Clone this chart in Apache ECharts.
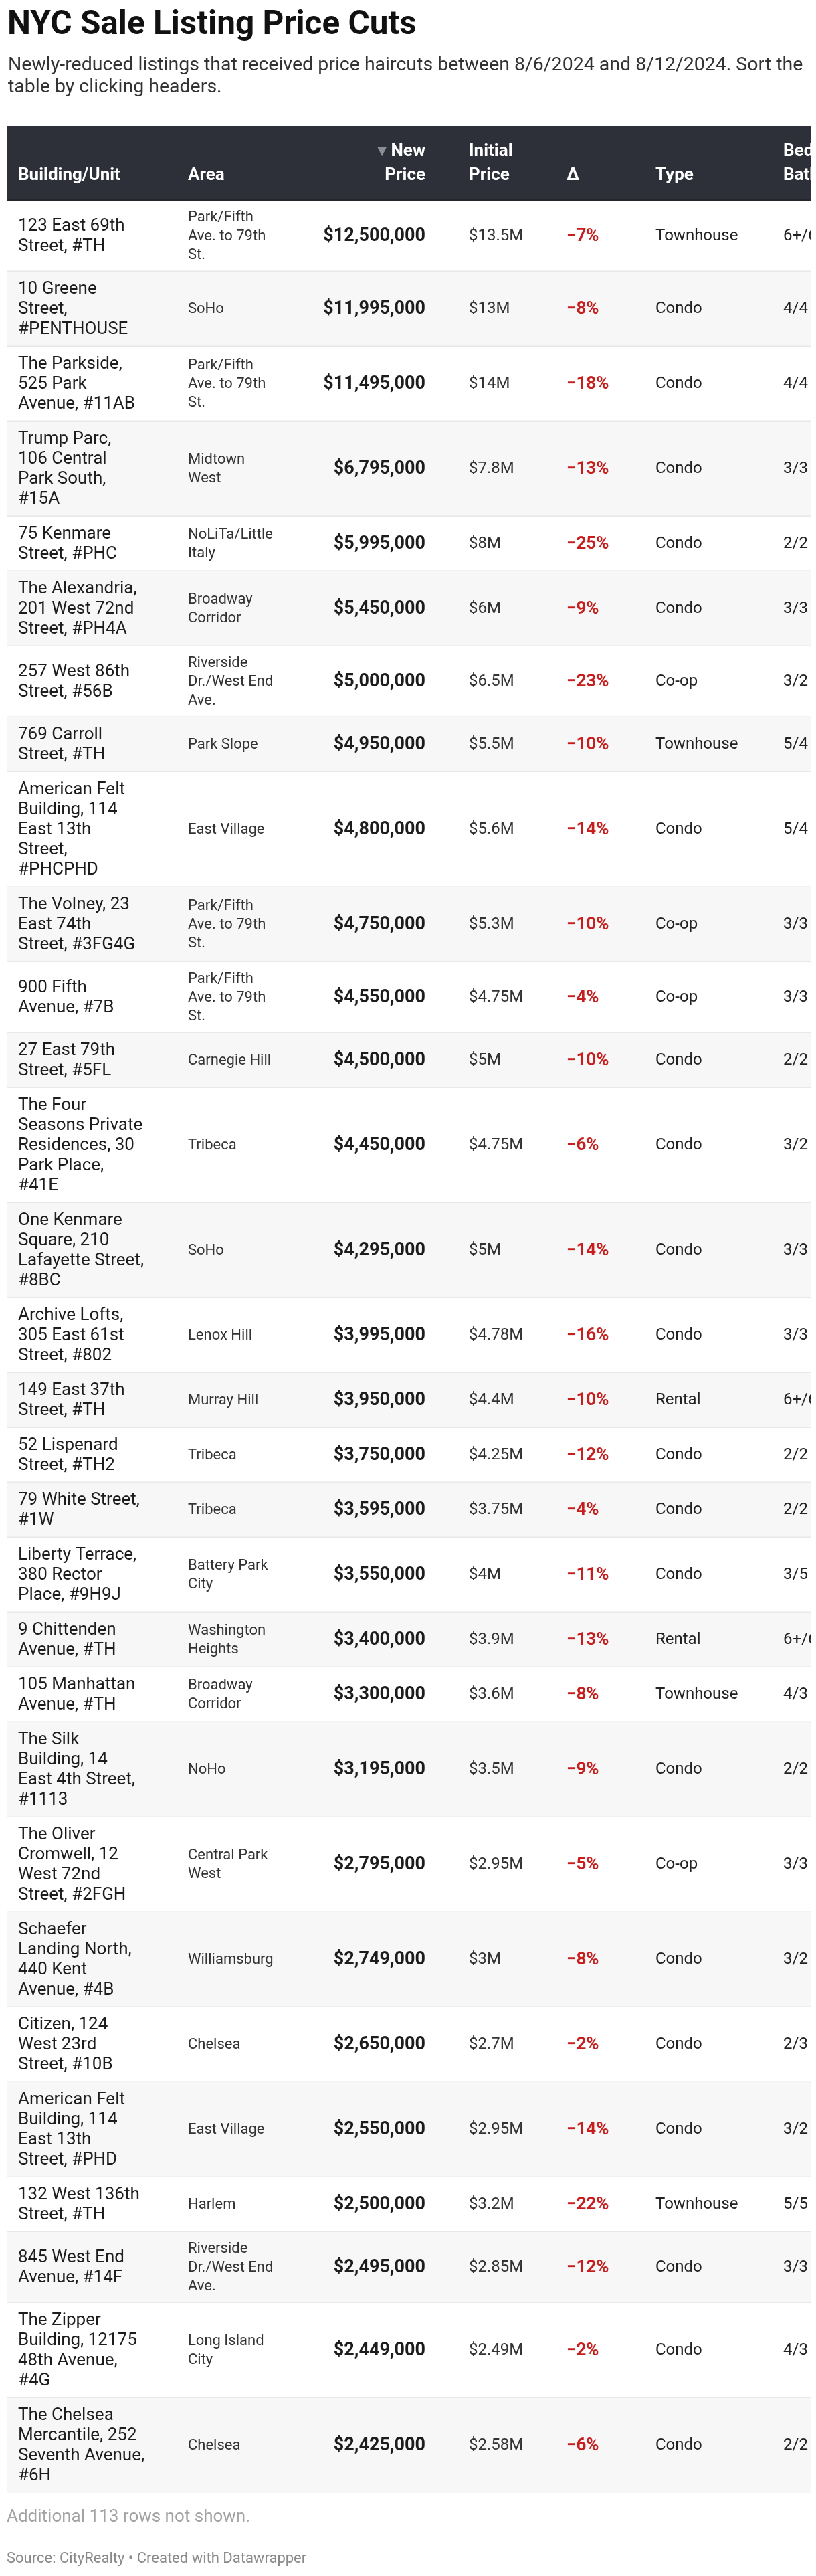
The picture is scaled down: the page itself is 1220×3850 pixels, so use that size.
<!DOCTYPE html>
<html><head><meta charset="utf-8">
<script src="https://cdn.jsdelivr.net/npm/echarts@6/dist/echarts.min.js"></script>
<style>html,body{margin:0;padding:0;background:#fff}#c{width:1220px;height:3850px}</style>
</head><body><div id="c"></div><script>
// ---------------- DATA ----------------
const title = 'NYC Sale Listing Price Cuts';
const subtitle = 'Newly-reduced listings that received price haircuts between 8/6/2024 and 8/12/2024. Sort the table by clicking headers.';
const headers = ['Building/Unit', 'Area', 'New Price', 'Initial Price', 'Δ', 'Type', 'Beds/Baths'];
const buildings = [
  '123 East 69th Street, #TH',
  '10 Greene Street, #PENTHOUSE',
  'The Parkside, 525 Park Avenue, #11AB',
  'Trump Parc, 106 Central Park South, #15A',
  '75 Kenmare Street, #PHC',
  'The Alexandria, 201 West 72nd Street, #PH4A',
  '257 West 86th Street, #56B',
  '769 Carroll Street, #TH',
  'American Felt Building, 114 East 13th Street, #PHCPHD',
  'The Volney, 23 East 74th Street, #3FG4G',
  '900 Fifth Avenue, #7B',
  '27 East 79th Street, #5FL',
  'The Four Seasons Private Residences, 30 Park Place, #41E',
  'One Kenmare Square, 210 Lafayette Street, #8BC',
  'Archive Lofts, 305 East 61st Street, #802',
  '149 East 37th Street, #TH',
  '52 Lispenard Street, #TH2',
  '79 White Street, #1W',
  'Liberty Terrace, 380 Rector Place, #9H9J',
  '9 Chittenden Avenue, #TH',
  '105 Manhattan Avenue, #TH',
  'The Silk Building, 14 East 4th Street, #1113',
  'The Oliver Cromwell, 12 West 72nd Street, #2FGH',
  'Schaefer Landing North, 440 Kent Avenue, #4B',
  'Citizen, 124 West 23rd Street, #10B',
  'American Felt Building, 114 East 13th Street, #PHD',
  '132 West 136th Street, #TH',
  '845 West End Avenue, #14F',
  'The Zipper Building, 12175 48th Avenue, #4G',
  'The Chelsea Mercantile, 252 Seventh Avenue, #6H'
];
const areas = [
  'Park/Fifth Ave. to 79th St.', 'SoHo', 'Park/Fifth Ave. to 79th St.', 'Midtown West',
  'NoLiTa/Little Italy', 'Broadway Corridor', 'Riverside Dr./West End Ave.', 'Park Slope',
  'East Village', 'Park/Fifth Ave. to 79th St.', 'Park/Fifth Ave. to 79th St.', 'Carnegie Hill',
  'Tribeca', 'SoHo', 'Lenox Hill', 'Murray Hill', 'Tribeca', 'Tribeca', 'Battery Park City',
  'Washington Heights', 'Broadway Corridor', 'NoHo', 'Central Park West', 'Williamsburg',
  'Chelsea', 'East Village', 'Harlem', 'Riverside Dr./West End Ave.', 'Long Island City', 'Chelsea'
];
const newPrices = [12500000, 11995000, 11495000, 6795000, 5995000, 5450000, 5000000, 4950000, 4800000, 4750000,
  4550000, 4500000, 4450000, 4295000, 3995000, 3950000, 3750000, 3595000, 3550000, 3400000,
  3300000, 3195000, 2795000, 2749000, 2650000, 2550000, 2500000, 2495000, 2449000, 2425000];
const initialPricesM = [13.5, 13, 14, 7.8, 8, 6, 6.5, 5.5, 5.6, 5.3, 4.75, 5, 4.75, 5, 4.78, 4.4, 4.25, 3.75, 4, 3.9,
  3.6, 3.5, 2.95, 3, 2.7, 2.95, 3.2, 2.85, 2.49, 2.58];
const deltas = [-7, -8, -18, -13, -25, -9, -23, -10, -14, -10, -4, -10, -6, -14, -16, -10, -12, -4, -11, -13,
  -8, -9, -5, -8, -2, -14, -22, -12, -2, -6];
const types = ['Townhouse', 'Condo', 'Condo', 'Condo', 'Condo', 'Condo', 'Co-op', 'Townhouse', 'Condo', 'Co-op',
  'Co-op', 'Condo', 'Condo', 'Condo', 'Condo', 'Rental', 'Condo', 'Condo', 'Condo', 'Rental',
  'Townhouse', 'Condo', 'Co-op', 'Condo', 'Condo', 'Condo', 'Townhouse', 'Condo', 'Condo', 'Condo'];
const bedsBaths = ['6+/6+', '4/4', '4/4', '3/3', '2/2', '3/3', '3/2', '5/4', '5/4', '3/3',
  '3/3', '2/2', '3/2', '3/3', '3/3', '6+/6+', '2/2', '2/2', '3/5', '6+/6+',
  '4/3', '2/2', '3/3', '3/2', '2/3', '3/2', '5/5', '3/3', '4/3', '2/2'];
const notShownNote = 'Additional 113 rows not shown.';
const sourceNote = 'Source: CityRealty • Created with Datawrapper';

// ---------------- LAYOUT / STYLE ----------------
const FF = 'Roboto, "Noto Sans", sans-serif';
const TABLE_LEFT = 10, TABLE_TOP = 188, HEADER_H = 112, PAD = 22;
const COLS = [
  { x: 17,  align: 'left',  font: '26px ' + FF, lh: 30, fill: '#1d1d1d', wrapW: 189.3 },
  { x: 271, align: 'left',  font: '22px ' + FF, lh: 28, fill: '#333333', wrapW: 133 },
  { x: 626, align: 'right', font: 'bold 27px ' + FF, lh: 30, fill: '#1d1d1d' },
  { x: 691, align: 'left',  font: '24px ' + FF, lh: 30, fill: '#333333' },
  { x: 837, align: 'left',  font: 'bold 26px ' + FF, lh: 30, fill: '#c71e1d' },
  { x: 970, align: 'left',  font: '24px ' + FF, lh: 30, fill: '#222222' },
  { x: 1161, align: 'left', font: '24px ' + FF, lh: 30, fill: '#222222' }
];
const HEADER_WRAP = [240, 140, 100, 100, 60, 140, 60];
const HEADER_FONT = 'bold 26px ' + FF;

const mctx = document.createElement('canvas').getContext('2d');
function wrap(text, font, width, slash) {
  mctx.font = font;
  const toks = [];
  text.split(' ').forEach((w, i) => {
    const parts = slash ? w.split(/(?<=\/)/) : [w];
    parts.forEach((p, j) => toks.push({ t: p, sep: (j === 0 && i > 0) ? ' ' : '' }));
  });
  const lines = []; let cur = '';
  toks.forEach(tk => {
    const cand = cur === '' ? tk.t : cur + tk.sep + tk.t;
    if (cur !== '' && mctx.measureText(cand).width > width) { lines.push(cur); cur = tk.t; }
    else cur = cand;
  });
  if (cur) lines.push(cur);
  return lines;
}

function cellText(ci, ri) {
  switch (ci) {
    case 0: return rowsInfo[ri].bLines.join('\n');
    case 1: return rowsInfo[ri].aLines.join('\n');
    case 2: return '$' + newPrices[ri].toLocaleString('en-US');
    case 3: return '$' + initialPricesM[ri] + 'M';
    case 4: return (deltas[ri] < 0 ? '\u2212' : '+') + Math.abs(deltas[ri]) + '%';
    case 5: return types[ri];
    case 6: return bedsBaths[ri];
  }
}

const rowsInfo = [];
let yCursor = HEADER_H;
buildings.forEach((b, i) => {
  const bLines = wrap(b, COLS[0].font, COLS[0].wrapW, false);
  const aLines = wrap(areas[i], COLS[1].font, COLS[1].wrapW, false);
  const h = PAD + Math.max(bLines.length * COLS[0].lh, aLines.length * COLS[1].lh, 30);
  rowsInfo.push({ bLines, aLines, top: yCursor, bottom: yCursor + h });
  yCursor += h;
});
const TOTAL_H = yCursor;
const TABLE_W = 1203;

const rowData = [[-1, 0, HEADER_H]].concat(rowsInfo.map((r, i) => [i, r.top, r.bottom]));
const cellData = [];
headers.forEach((h, ci) => cellData.push([ci, -1, 0, HEADER_H]));
rowsInfo.forEach((r, ri) => headers.forEach((h, ci) => cellData.push([ci, ri, r.top, r.bottom])));

const chart = echarts.init(document.getElementById('c'), null, { renderer: 'canvas' });
const subLines = wrap(subtitle, '28.5px ' + FF, 1200, false);

chart.setOption({
  animation: false,
  backgroundColor: '#ffffff',
  grid: { left: TABLE_LEFT, top: TABLE_TOP, width: TABLE_W, height: TOTAL_H },
  xAxis: { type: 'value', min: 0, max: TABLE_W, show: false },
  yAxis: { type: 'value', min: 0, max: TOTAL_H, inverse: true, show: false },
  graphic: [
    { type: 'text', left: 11, top: 14, style: { text: title, font: 'bold 49.5px ' + FF, fill: '#111111' } },
    { type: 'text', left: 12, top: 81, style: { text: subLines.join('\n'), font: '28.5px ' + FF, lineHeight: 33, fill: '#333333' } },
    { type: 'text', left: 10, top: 3749, style: { text: notShownNote, font: '26px ' + FF, fill: '#a3a3a3' } },
    { type: 'text', left: 10, top: 3813, style: { text: sourceNote, font: '22px ' + FF, fill: '#8a8a8a' } }
  ],
  series: [
    {
      type: 'custom', name: 'rows', clip: true, silent: true,
      data: rowData,
      renderItem: function (params, api) {
        const i = api.value(0);
        const p0 = api.coord([0, api.value(1)]);
        const p1 = api.coord([TABLE_W, api.value(2)]);
        const w = p1[0] - p0[0], h = p1[1] - p0[1];
        const children = [{
          type: 'rect', shape: { x: p0[0], y: p0[1], width: w, height: h },
          style: { fill: i < 0 ? '#2d2f39' : (i % 2 ? '#f7f7f7' : '#ffffff') }
        }];
        if (i < 0) {
          children.push({ type: 'rect', shape: { x: p0[0], y: p1[1] - 2, width: w, height: 2 }, style: { fill: '#25262c' } });
        } else if (i < buildings.length - 1) {
          children.push({ type: 'rect', shape: { x: p0[0], y: p1[1] - 1.5, width: w, height: 3 }, style: { fill: '#e8e8e8' } });
        }
        return { type: 'group', children };
      }
    },
    {
      type: 'custom', name: 'cells', clip: true, silent: true,
      data: cellData,
      renderItem: function (params, api) {
        const ci = api.value(0), ri = api.value(1);
        const top = api.value(2), bot = api.value(3);
        const col = COLS[ci];
        if (ri < 0) {
          const p = api.coord([col.x, bot - 20]);
          let lines = wrap(headers[ci], HEADER_FONT, HEADER_WRAP[ci], true);
          const style = { font: HEADER_FONT, fill: '#ffffff', align: col.align, verticalAlign: 'bottom', lineHeight: 36 };
          if (ci === 2) {
            style.text = '{ar|\u25BC} ' + lines[0] + '\n' + lines.slice(1).join('\n');
            style.rich = { ar: { font: '18px "DejaVu Sans", sans-serif', fill: '#8b8e97', lineHeight: 36, verticalAlign: 'middle' } };
          } else {
            style.text = lines.join('\n');
          }
          return { type: 'text', x: p[0], y: p[1], style };
        }
        const p = api.coord([col.x, (top + bot) / 2]);
        return {
          type: 'text', x: p[0], y: p[1],
          style: { text: cellText(ci, ri), font: col.font, fill: col.fill, align: col.align, verticalAlign: 'middle', lineHeight: col.lh }
        };
      }
    }
  ]
});
</script></body></html>
